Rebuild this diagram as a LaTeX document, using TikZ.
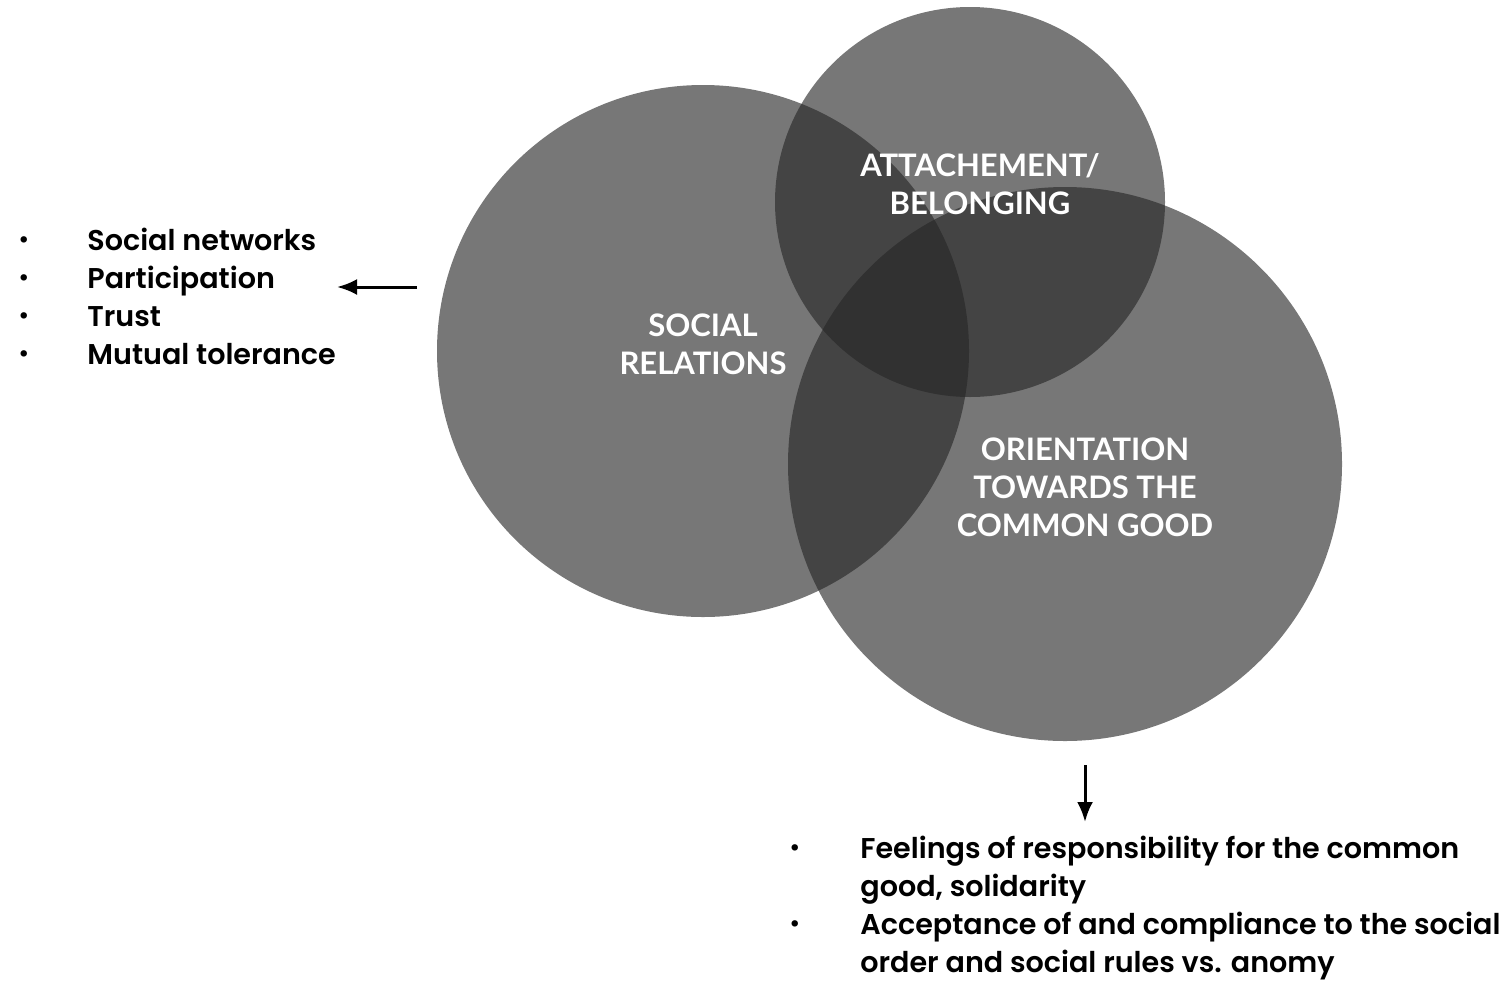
\documentclass[tikz,border=0pt]{standalone}
\usepackage{fontspec}
\setmainfont{Lato}[Ligatures=NoCommon]
\newfontfamily\listfont{Poppins}[UprightFont=* SemiBold]
\usepackage{tikz}
\usetikzlibrary{positioning,arrows.meta}

\definecolor{venngray}{RGB}{37,37,37}
\newcommand{\dotmark}{\raisebox{0.15ex}{\scalebox{0.8}{\textbullet}}}

\tikzset{
  ring/.style={circle, draw=none, fill=venngray, fill opacity=0.625, inner sep=0pt},
  ringlabel/.style={text=white, align=center, inner sep=0pt, font=\bfseries\fontsize{15.5}{19}\selectfont},
  bulletlist/.style={inner sep=0pt, text depth=0pt, anchor=north west, font=\listfont\fontsize{14.3}{19}\selectfont},
  pointer/.style={line width=1.5pt, -{Latex[length=10pt,width=8pt]}}
}

\begin{document}
\begin{tikzpicture}[x=0.5pt, y=-0.5pt]
  \useasboundingbox (0,0) rectangle (1509,980);

  % the three circles
  \node[ring, minimum size=266pt] (social) at (703,351) {};
  \node[ring, minimum size=195pt] (attach) at (970,202) {};
  \node[ring, minimum size=277pt] (orient) at (1065,464) {};

  \node[ringlabel] (sociallbl) at (703,344) {SOCIAL\\RELATIONS};
  \node[ringlabel] (attachlbl) at (980,184) {ATTACHEMENT/\\BELONGING};
  \node[ringlabel] (orientlbl) at (1085,487) {ORIENTATION\\TOWARDS THE\\COMMON GOOD};

  % lists
  \node[bulletlist] (netlist) at (18,223) {%
    \begin{tabular}{@{}p{34.5pt}@{}l@{}}
      \dotmark & Social networks\\
      \dotmark & Participation\\
      \dotmark & Trust\\
      \dotmark & Mutual tolerance
    \end{tabular}};
  \node[bulletlist] (goodlist) at (789,831) {%
    \begin{tabular}{@{}p{35.5pt}@{}l@{}}
      \dotmark & Feelings of responsibility for the common\\
               & good, solidarity\\
      \dotmark & Acceptance of and compliance to the social\\
               & order and social rules vs. anomy
    \end{tabular}};

  % arrows
  \coordinate (leftstart) at (417,287);
  \coordinate (leftend) at (337,287);
  \coordinate (downstart) at (1085,765);
  \coordinate (downend) at (1085,822);
  \draw[pointer] (leftstart) -- (leftend);
  \draw[pointer] (downstart) -- (downend);
\end{tikzpicture}
\end{document}
